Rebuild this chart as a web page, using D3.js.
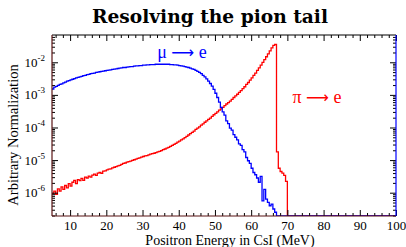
<!DOCTYPE html>
<html>
<head>
<meta charset="utf-8">
<script src="https://cdn.jsdelivr.net/npm/d3@7.9.0/dist/d3.min.js"></script>
<style>
  body { margin: 0; background: #fff; }
  svg { display: block; }
</style>
</head>
<body>
<svg id="chart" width="406" height="247"></svg>
<script>
// bins are 0.5 MeV wide, left edges starting at 5 MeV
const binStart = 5;
const binWidth = 0.5;

// log10 of the normalised counts per bin (null = empty bin)
const muLog = [
  -2.82, -2.76, -2.74, -2.71, -2.68, -2.66, -2.63, -2.61, -2.58, -2.56,
  -2.54, -2.52, -2.50, -2.48, -2.46, -2.45, -2.43, -2.41, -2.40, -2.38,
  -2.37, -2.35, -2.34, -2.33, -2.31, -2.30, -2.29, -2.28, -2.27, -2.26,
  -2.25, -2.24, -2.23, -2.22, -2.21, -2.20, -2.19, -2.18, -2.17, -2.16,
  -2.16, -2.15, -2.14, -2.13, -2.13, -2.12, -2.11, -2.11, -2.10, -2.10,
  -2.09, -2.09, -2.08, -2.08, -2.07, -2.07, -2.07, -2.06, -2.06, -2.06,
  -2.06, -2.06, -2.06, -2.06, -2.06, -2.07, -2.07, -2.08, -2.08, -2.09,
  -2.10, -2.11, -2.12, -2.13, -2.15, -2.16, -2.18, -2.20, -2.22, -2.25,
  -2.28, -2.31, -2.35, -2.40, -2.45, -2.51, -2.58, -2.65, -2.73, -2.83,
  -2.95, -3.08, -3.22, -3.38, -3.52, -3.62, -3.80, -3.88, -4.02, -4.08,
  -4.22, -4.30, -4.38, -4.50, -4.55, -4.68, -4.75, -4.92, -5.02, -5.10,
  -5.25, -5.38, -5.45, -5.55, -5.68, -5.50, -6.25, -5.90, -6.20, -6.30,
  -6.40, -6.35, -6.50, -6.60, null, null, null, null, null, null,
  null, null, null, null
];

const piLog = [
  -6.02, -5.95, -6.05, -5.88, -5.95, -5.82, -5.90, -5.78, -5.85, -5.72,
  -5.80, -5.68, -5.62, -5.72, -5.60, -5.63, -5.56, -5.62, -5.52, -5.55,
  -5.49, -5.52, -5.46, -5.43, -5.47, -5.40, -5.38, -5.41, -5.34, -5.33,
  -5.30, -5.28, -5.27, -5.24, -5.22, -5.20, -5.18, -5.16, -5.13, -5.10,
  -5.09, -5.06, -5.05, -5.03, -5.01, -4.99, -4.97, -4.95, -4.93, -4.91,
  -4.89, -4.87, -4.86, -4.84, -4.82, -4.80, -4.79, -4.77, -4.75, -4.73,
  -4.71, -4.68, -4.66, -4.63, -4.61, -4.58, -4.55, -4.52, -4.49, -4.45,
  -4.42, -4.38, -4.35, -4.31, -4.27, -4.23, -4.19, -4.15, -4.11, -4.06,
  -4.02, -3.98, -3.93, -3.89, -3.84, -3.80, -3.75, -3.71, -3.66, -3.61,
  -3.57, -3.52, -3.47, -3.43, -3.38, -3.33, -3.28, -3.24, -3.19, -3.14,
  -3.08, -3.03, -2.98, -2.92, -2.87, -2.81, -2.75, -2.68, -2.62, -2.55,
  -2.48, -2.40, -2.33, -2.25, -2.17, -2.09, -2.00, -1.92, -1.83, -1.74,
  -1.65, -1.56, -1.48, -1.45, -4.75, -5.25, -5.35, -5.40, -5.47, -5.65,
  null, null, null, null
];

const xMajor = [10, 20, 30, 40, 50, 60, 70, 80, 90, 100];
const yMajorExp = [-6, -5, -4, -3, -2];

const area = { left: 52, right: 396, top: 35, bottom: 216 };

const svg = d3.select('#chart');

const xScale = d3.scaleLinear().domain([5, 100]).range([area.left, area.right]);
const yScale = d3.scaleLog()
  .domain([Math.pow(10, -6.715), Math.pow(10, -1.163)])
  .range([area.bottom, area.top]);

const serif = '"Liberation Serif", "Times New Roman", serif';

// turn log list into histogram points, empty bins sit on the floor
function toPoints(logs) {
  const pts = logs.map((v, i) => ({
    e: binStart + i * binWidth,
    v: v === null ? 0 : Math.pow(10, v),
  }));
  pts.push({ e: xScale.domain()[1], v: 0 });
  return pts;
}

const line = d3.line()
  .curve(d3.curveStepAfter)
  .x((d) => xScale(d.e))
  .y((d) => (d.v > 0 ? yScale(d.v) : area.bottom));

svg.append('clipPath').attr('id', 'plot-clip')
  .append('rect')
  .attr('x', area.left).attr('y', area.top)
  .attr('width', area.right - area.left)
  .attr('height', area.bottom - area.top);

const curves = svg.append('g').attr('clip-path', 'url(#plot-clip)');

curves.append('path')
  .datum(toPoints(piLog))
  .attr('d', line)
  .attr('fill', 'none')
  .attr('stroke', '#ff0000')
  .attr('stroke-width', 1.3);

curves.append('path')
  .datum(toPoints(muLog))
  .attr('d', line)
  .attr('fill', 'none')
  .attr('stroke', '#0000ff')
  .attr('stroke-width', 1.3);

// ticks (inward, like the original)
const xMinor = d3.range(6, 100, 2).filter((d) => d % 10 !== 0);
const yMajor = yMajorExp.map((p) => Math.pow(10, p));
const yMinor = yScale.ticks().filter((d) => !yMajor.some((m) => Math.abs(m - d) / m < 1e-6));

function addAxis(axis, tx, ty) {
  const g = svg.append('g').attr('transform', `translate(${tx},${ty})`).call(axis);
  g.select('.domain').remove();
  g.selectAll('.tick line').attr('stroke', '#000').attr('stroke-width', 1);
  return g;
}

const xAxis = addAxis(
  d3.axisBottom(xScale).tickValues(xMajor).tickSize(-6).tickPadding(5),
  0, area.bottom);
xAxis.selectAll('text')
  .attr('font-family', serif).attr('font-size', 13).attr('fill', '#000');

addAxis(d3.axisBottom(xScale).tickValues(xMinor).tickSize(-3).tickFormat(''), 0, area.bottom);
addAxis(d3.axisTop(xScale).tickValues(xMajor).tickSize(-6).tickFormat(''), 0, area.top);
addAxis(d3.axisTop(xScale).tickValues(xMinor).tickSize(-3).tickFormat(''), 0, area.top);

addAxis(d3.axisLeft(yScale).tickValues(yMajor).tickSize(-6).tickFormat(''), area.left, 0);
addAxis(d3.axisLeft(yScale).tickValues(yMinor).tickSize(-3).tickFormat(''), area.left, 0);
addAxis(d3.axisRight(yScale).tickValues(yMajor).tickSize(-6).tickFormat(''), area.right, 0);
addAxis(d3.axisRight(yScale).tickValues(yMinor).tickSize(-3).tickFormat(''), area.right, 0);

// y labels as 10^n
const yLabels = svg.append('g')
  .attr('font-family', serif)
  .attr('fill', '#000');
yMajorExp.forEach((p) => {
  const t = yLabels.append('text')
    .attr('x', area.left - 7)
    .attr('y', yScale(Math.pow(10, p)) + 4.5)
    .attr('text-anchor', 'end')
    .attr('font-size', 13);
  t.append('tspan').text('10');
  t.append('tspan').attr('dy', -6).attr('font-size', 9).text(String(p));
});

// frame
const frame = svg.append('g').attr('stroke-width', 1.2).attr('fill', 'none');
frame.append('line').attr('x1', area.left).attr('x2', area.right)
  .attr('y1', area.top).attr('y2', area.top).attr('stroke', '#000');
frame.append('line').attr('x1', area.left).attr('x2', area.right)
  .attr('y1', area.bottom).attr('y2', area.bottom).attr('stroke', '#5a1414');
frame.append('line').attr('x1', area.left).attr('x2', area.left)
  .attr('y1', area.top).attr('y2', area.bottom).attr('stroke', '#5a1414');
frame.append('line').attr('x1', area.right).attr('x2', area.right)
  .attr('y1', area.top).attr('y2', area.bottom).attr('stroke', '#0000ff');

// titles
svg.append('text')
  .attr('x', 210).attr('y', 23)
  .attr('text-anchor', 'middle')
  .attr('font-family', '"DejaVu Serif", serif')
  .attr('font-weight', 'bold')
  .attr('font-size', 18)
  .attr('textLength', 236)
  .attr('lengthAdjust', 'spacingAndGlyphs')
  .text('Resolving the pion tail');

svg.append('text')
  .attr('x', 230).attr('y', 245)
  .attr('text-anchor', 'middle')
  .attr('font-family', serif)
  .attr('font-size', 14)
  .text('Positron Energy in CsI (MeV)');

svg.append('text')
  .attr('transform', 'translate(18,135) rotate(-90)')
  .attr('text-anchor', 'middle')
  .attr('font-family', serif)
  .attr('font-size', 14.5)
  .text('Arbitrary Normalization');

function reaction(x, y, from, color) {
  const t = svg.append('text')
    .attr('x', x).attr('y', y)
    .attr('text-anchor', 'middle')
    .attr('font-family', serif)
    .attr('font-size', 18)
    .attr('fill', color);
  t.append('tspan').text(from + ' ');
  t.append('tspan').attr('font-family', '"DejaVu Sans", sans-serif').attr('font-size', 16).text('⟶');
  t.append('tspan').text(' e');
}
reaction(182, 58, 'μ', '#0000ff');
reaction(317, 103, 'π', '#ff0000');
</script>
</body>
</html>
